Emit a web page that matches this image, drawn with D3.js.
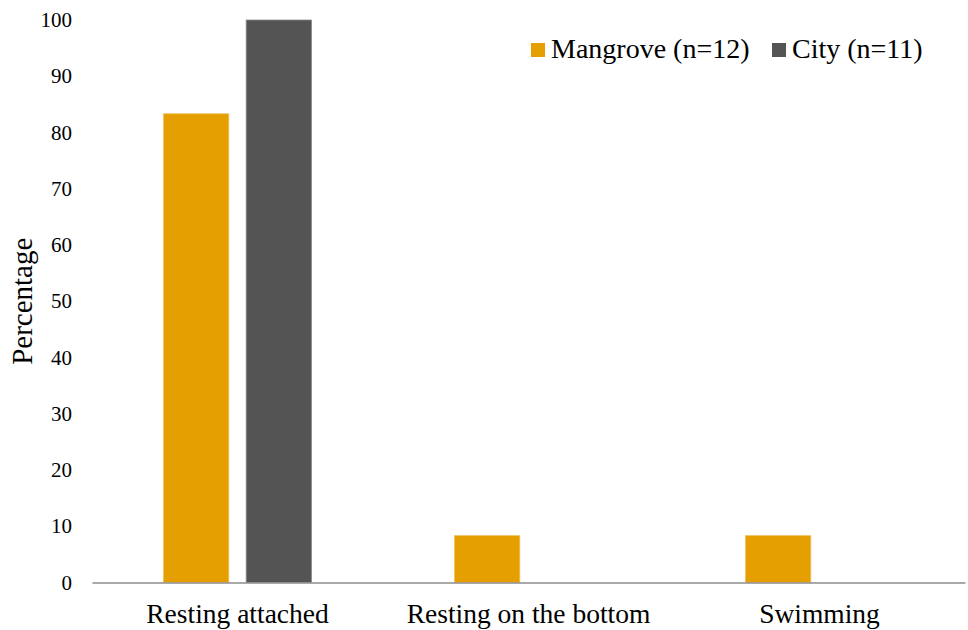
<!DOCTYPE html>
<html>
<head>
<meta charset="utf-8">
<script src="https://cdn.jsdelivr.net/npm/d3@7"></script>
<style>
  body { margin: 0; background: #fff; }
  svg text { font-family: "Liberation Serif", "Times New Roman", serif; fill: #000; }
</style>
</head>
<body>
<svg id="chart" width="968" height="630"></svg>
<script>
const categories = ["Resting attached", "Resting on the bottom", "Swimming"];
const seriesNames = ["Mangrove (n=12)", "City (n=11)"];
const mangrove = [83.33, 8.33, 8.33];
const city = [100, 0, 0];
const yTicks = [0, 10, 20, 30, 40, 50, 60, 70, 80, 90, 100];
const colors = ["#E69F00", "#545454"];

const svg = d3.select("#chart");
const margin = { left: 92, right: 3, top: 20, bottom: 47.5 };
const width = 968, height = 630;

const x = d3.scaleBand().domain(categories)
  .range([margin.left, width - margin.right]).paddingInner(0).paddingOuter(0);
const groupWidth = 148;
const x1 = d3.scaleBand().domain(seriesNames)
  .range([0, groupWidth]).paddingInner(0.21);
const y = d3.scaleLinear().domain([0, 100]).range([height - margin.bottom, margin.top]);

// y axis tick labels only (no axis line, no tick marks)
const yAxis = svg.append("g")
  .attr("transform", `translate(${margin.left},0)`)
  .call(d3.axisLeft(y).tickValues(yTicks).tickSize(0).tickPadding(20).tickFormat(d3.format("d")));
yAxis.select(".domain").remove();
yAxis.selectAll("text").attr("font-size", 21).attr("font-family", "Liberation Serif, serif").attr("fill", "#000");

const rows = categories.map((c, i) => ({ cat: c, values: [mangrove[i], city[i]] }));

const groups = svg.append("g").selectAll("g").data(rows).join("g")
  .attr("transform", d => `translate(${x(d.cat) + x.bandwidth() / 2 - groupWidth / 2},0)`);

groups.selectAll("rect")
  .data(d => d.values.map((v, j) => ({ v, s: seriesNames[j], j })).filter(e => e.v > 0))
  .join("rect")
  .attr("x", e => x1(e.s))
  .attr("width", x1.bandwidth())
  .attr("y", e => y(e.v))
  .attr("height", e => y(0) - y(e.v))
  .attr("fill", e => colors[e.j])
  .attr("stroke", e => e.j === 0 ? "#F0C060" : "#8a8a8a")
  .attr("stroke-width", 0.8);

// x axis baseline and category labels
const xAxis = svg.append("g")
  .attr("transform", `translate(0,${y(0)})`)
  .call(d3.axisBottom(x).tickSize(0).tickPadding(21));
xAxis.select(".domain").attr("stroke", "#8c8c8c").attr("stroke-width", 1.5);
xAxis.selectAll("text").attr("font-size", 27.5).attr("font-family", "Liberation Serif, serif").attr("fill", "#000");

// y axis title
svg.append("text")
  .attr("transform", `translate(32,${(y(0) + y(100)) / 2}) rotate(-90)`)
  .attr("text-anchor", "middle")
  .attr("font-size", 29)
  .text("Percentage");

// legend
const legendPos = [531, 772];
const legend = svg.append("g").selectAll("g").data(seriesNames).join("g")
  .attr("transform", (d, i) => `translate(${legendPos[i]},0)`);
legend.append("rect").attr("x", 0).attr("y", 43).attr("width", 14).attr("height", 14)
  .attr("fill", (d, i) => colors[i]);
legend.append("text").attr("x", 20).attr("y", 58).attr("font-size", 28).text(d => d);
</script>
</body>
</html>
